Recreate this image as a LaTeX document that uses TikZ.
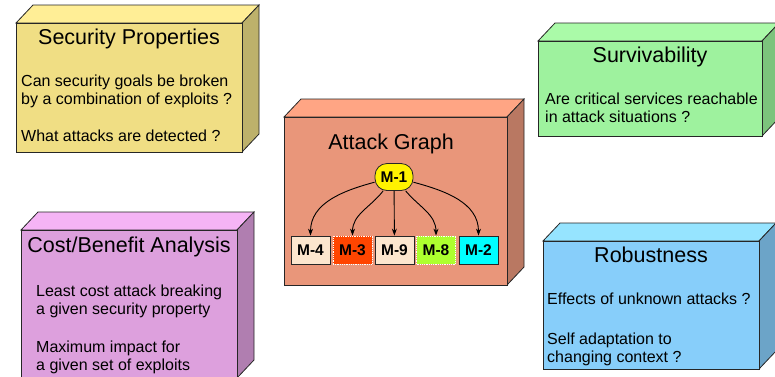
\documentclass[tikz,border=0pt]{standalone}
\usepackage{fontspec}
\setmainfont{Liberation Sans}
\usetikzlibrary{arrows.meta}
\definecolor{secT}{HTML}{FFEE96}\definecolor{secF}{HTML}{F0DE84}\definecolor{secS}{HTML}{BDB16B}
\definecolor{atkT}{HTML}{FFA584}\definecolor{atkF}{HTML}{E9967A}\definecolor{atkS}{HTML}{B97862}
\definecolor{surT}{HTML}{AAFAA8}\definecolor{surF}{HTML}{9EF29E}\definecolor{surS}{HTML}{7CC47C}
\definecolor{cstT}{HTML}{F5B4F5}\definecolor{cstF}{HTML}{DDA0DD}\definecolor{cstS}{HTML}{B07EB0}
\definecolor{robT}{HTML}{96E4FF}\definecolor{robF}{HTML}{87CEFA}\definecolor{robS}{HTML}{6CA4C8}
\definecolor{mPale}{HTML}{FCE6CE}\definecolor{mRed}{HTML}{FF4500}
\definecolor{mGreen}{HTML}{ADFF2F}\definecolor{mCyan}{HTML}{00FFFF}
\newcommand{\solidbox}[5]{%
  \filldraw[boxedge, fill=#5T] (#1,#2) -- ({#1+17},{#2-18}) -- ({#3+17},{#2-18}) -- (#3,#2) -- cycle;
  \filldraw[boxedge, fill=#5S] (#3,#2) -- ({#3+17},{#2-18}) -- ({#3+17},{#4-18}) -- (#3,#4) -- cycle;
  \filldraw[boxedge, fill=#5F] (#1,#2) rectangle (#3,#4);
}
\tikzset{
  boxedge/.style={draw=black!85, line width=0.8pt, line join=miter},
  boxtitle/.style={anchor=base, inner sep=0pt, font=\fontsize{21.5}{24}\selectfont},
  boxtext/.style={anchor=base west, inner sep=0pt, font=\fontsize{16}{18}\selectfont},
  mnode/.style={minimum width=39pt, minimum height=28pt, inner sep=0pt, font=\fontsize{15.5}{17}\selectfont\bfseries},
  msolid/.style={mnode, draw=black!85, line width=0.8pt},
  mdot/.style={mnode, draw=white, densely dotted, line width=0.8pt},
  arr/.style={-{Stealth[length=7pt,width=5pt]}, line width=0.9pt, black},
}
\begin{document}
\begin{tikzpicture}[x=1pt,y=-1pt]
\useasboundingbox (0,0) rectangle (775,376);
% Security Properties
\solidbox{16}{23}{242}{152}{sec}
\node[boxtitle] (secTitle) at (129,44) {Security Properties};
\node[boxtext] (sec1) at (21,86) {Can security goals be broken};
\node[boxtext] (sec2) at (21,104) {by a combination of exploits ?};
\node[boxtext] (sec3) at (21,141) {What attacks are detected ?};
% Survivability
\solidbox{538}{41}{762}{136}{sur}
\node[boxtitle] (surTitle) at (650,62) {Survivability};
\node[boxtext] (sur1) at (545,104.5) {Are critical services reachable};
\node[boxtext] (sur2) at (545,122.5) {in attack situations ?};
% Cost/Benefit
\solidbox{21}{230}{237}{378}{cst}
\node[boxtitle] (cstTitle) at (129,252) {Cost/Benefit Analysis};
\node[boxtext] (cst1) at (36,296) {Least cost attack breaking};
\node[boxtext] (cst2) at (36,314) {a given security property};
\node[boxtext] (cst3) at (36,352) {Maximum impact for};
\node[boxtext] (cst4) at (36,370) {a given set of exploits};
% Robustness
\solidbox{543}{241}{759}{369}{rob}
\node[boxtitle] (robTitle) at (651,262) {Robustness};
\node[boxtext] (rob1) at (547,304.5) {Effects of unknown attacks ?};
\node[boxtext] (rob2) at (547,344) {Self adaptation to};
\node[boxtext] (rob3) at (547,362) {changing context ?};
% Attack Graph
\solidbox{284}{117}{507}{285}{atk}
\node[boxtitle] (atkTitle) at (391,149) {Attack Graph};
\node[mnode, draw=black!85, line width=0.8pt, fill=yellow, rounded corners=12pt, minimum width=38pt, minimum height=27pt] (m1) at (394,177) {M-1};
\node[msolid, fill=mPale] (m4) at (310.5,250) {M-4};
\node[mdot, fill=mRed] (m3) at (352.5,250) {M-3};
\node[msolid, fill=mPale] (m9) at (394.5,250) {M-9};
\node[mdot, fill=mGreen] (m8) at (436,250) {M-8};
\node[msolid, fill=mCyan] (m2) at (478.5,250) {M-2};
\draw[arr] (m1) to[out=195,in=90] (m4);
\draw[arr] (m1) to[out=232,in=90] (m3);
\draw[arr] (m1) -- (m9);
\draw[arr] (m1) to[out=-50,in=90] (m8);
\draw[arr] (m1) to[out=-15,in=90] (m2);
\end{tikzpicture}
\end{document}
